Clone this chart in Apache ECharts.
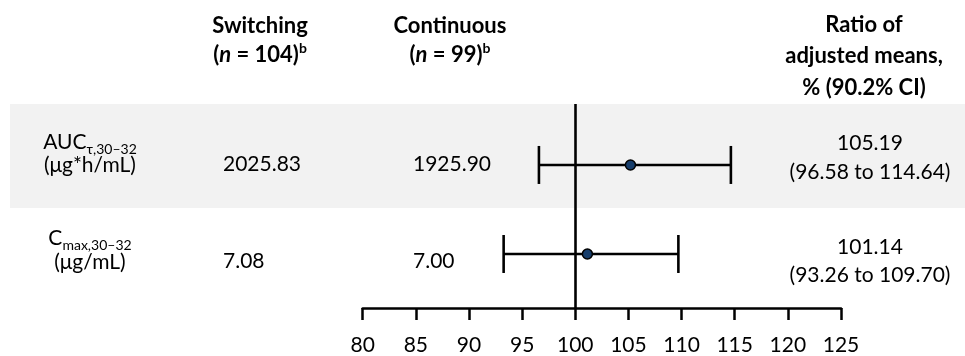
<!DOCTYPE html>
<html><head><meta charset="utf-8">
<script src="https://cdn.jsdelivr.net/npm/echarts@6/dist/echarts.min.js"></script>
<style>html,body{margin:0;padding:0;background:#fff}#c{width:965px;height:356px}</style>
</head><body><div id="c"></div>
<script>
// ---- data ----
const rowIds = [1, 2];
const metricMain = ['AUC', 'C'];
const metricSub = ['τ,30–32', 'max,30–32'];
const metricUnit = ['(μg*h/mL)', '(μg/mL)'];
const switchingMeans = ['2025.83', '7.08'];
const continuousMeans = ['1925.90', '7.00'];
const ratioMeans = [105.19, 101.14];
const ciLow = [96.58, 93.26];
const ciHigh = [114.64, 109.70];
const axisMin = 80, axisMax = 125, axisStep = 5;
const refValue = 100;
const groupNames = ['Switching', 'Continuous'];
const groupN = ['104', '99'];
const ratioHeader = ['Ratio of', 'adjusted means,', '% (90.2% CI)'];

// ---- layout ----
const F = 'Lato, "Noto Sans", sans-serif';
const TXT = '#000';
const groupX = [260, 450];
const valueX = [223, 413];
const rowLabelY = [[142, 165], [238, 262]];
const valueY = [164, 261];
const ratioY = [[143, 172], [247, 275]];

const chart = echarts.init(document.getElementById('c'), null, {renderer: 'canvas'});

const graphics = [];
graphics.push({type: 'rect', z: -10, shape: {x: 10, y: 104, width: 955, height: 104}, style: {fill: '#f2f2f2'}});
function txt(x, y, text, opts) {
  return Object.assign({type: 'text', x: x, y: y, z: 10, style: Object.assign({
    text: text, fill: TXT, fontFamily: F, fontSize: 21, textAlign: 'center', textVerticalAlign: 'middle'
  }, opts || {})});
}
groupNames.forEach((g, i) => {
  graphics.push(txt(groupX[i], 26, g, {fontWeight: 'bold', fontSize: 22}));
  graphics.push(txt(groupX[i], 55, '{p|(}{i|n}{p| = ' + groupN[i] + ')}{s|b}', {
    rich: {
      p: {fontFamily: F, fontSize: 22, fontWeight: 'bold', lineHeight: 26},
      i: {fontFamily: F, fontSize: 22, fontWeight: 'bold', fontStyle: 'italic', lineHeight: 26},
      s: {fontFamily: F, fontSize: 14, fontWeight: 'bold', lineHeight: 14, padding: [0, 0, 14, 0]}
    }
  }));
});
ratioHeader.forEach((t, k) => {
  graphics.push(txt(864, [25, 56, 88][k], t, {fontWeight: 'bold', fontSize: 22}));
});
rowIds.forEach((r, i) => {
  graphics.push(txt(90, rowLabelY[i][0], '{a|' + metricMain[i] + '}{s|' + metricSub[i] + '}', {
    rich: {
      a: {fontFamily: F, fontSize: 21, lineHeight: 24},
      s: {fontFamily: F, fontSize: 14, lineHeight: 14, padding: [14, 0, 0, 0]}
    }
  }));
  graphics.push(txt(90, rowLabelY[i][1], metricUnit[i]));
  graphics.push(txt(valueX[0], valueY[i], switchingMeans[i], {textAlign: 'left'}));
  graphics.push(txt(valueX[1], valueY[i], continuousMeans[i], {textAlign: 'left'}));
  graphics.push(txt(870, ratioY[i][0], ratioMeans[i].toFixed(2)));
  graphics.push(txt(870, ratioY[i][1], '(' + ciLow[i].toFixed(2) + ' to ' + ciHigh[i].toFixed(2) + ')'));
});

const option = {
  animation: false,
  backgroundColor: '#fff',
  grid: {left: 362.7, right: 124, top: 104, bottom: 48, containLabel: false},
  xAxis: {
    type: 'value', min: axisMin, max: axisMax, interval: axisStep, position: 'bottom',
    axisLine: {onZero: false, lineStyle: {color: '#000', width: 2.5}},
    axisTick: {length: 12, lineStyle: {color: '#000', width: 2.5}},
    axisLabel: {color: TXT, fontSize: 21, fontFamily: F, margin: 27},
    splitLine: {show: false}
  },
  yAxis: {type: 'value', inverse: true, min: 0.315, max: 2.607, show: false, splitLine: {show: false}},
  graphic: {elements: graphics},
  series: [
    {
      type: 'custom', z: 2,
      data: rowIds.map((r, i) => [r, ciLow[i], ciHigh[i]]),
      encode: {x: [1, 2], y: 0},
      renderItem: function (params, api) {
        const row = api.value(0);
        const p1 = api.coord([api.value(1), row]);
        const p2 = api.coord([api.value(2), row]);
        const h = 19;
        const ls = {stroke: '#000', lineWidth: 2.6};
        return {type: 'group', children: [
          {type: 'line', shape: {x1: p1[0], y1: p1[1], x2: p2[0], y2: p2[1]}, style: ls},
          {type: 'line', shape: {x1: p1[0], y1: p1[1] - h, x2: p1[0], y2: p1[1] + h}, style: ls},
          {type: 'line', shape: {x1: p2[0], y1: p2[1] - h, x2: p2[0], y2: p2[1] + h}, style: ls}
        ]};
      }
    },
    {
      type: 'scatter', z: 5,
      data: rowIds.map((r, i) => [ratioMeans[i], r]),
      symbol: 'circle', symbolSize: 10,
      itemStyle: {color: '#163d6b', borderColor: '#000', borderWidth: 1.5, opacity: 1},
      markLine: {
        silent: true, symbol: 'none', label: {show: false},
        lineStyle: {color: '#000', width: 2.6, type: 'solid'},
        data: [{xAxis: refValue}]
      }
    }
  ]
};
chart.setOption(option);
</script></body></html>
